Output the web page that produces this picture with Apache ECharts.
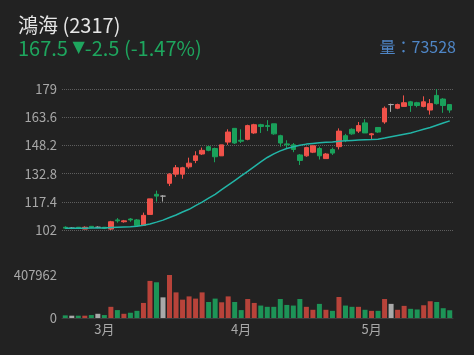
<!DOCTYPE html>
<html><head><meta charset="utf-8">
<script src="https://cdn.jsdelivr.net/npm/echarts@6/dist/echarts.min.js"></script>
<style>html,body{margin:0;padding:0;background:#222222;}#c{width:474px;height:355px;}</style>
</head><body><div id="c"></div>
<script>
// ---- data ----
const stockName = '鴻海 (2317)';
const lastPrice = '167.5';
const priceChange = '-2.5';
const pctChange = '-1.47%';
const lastVolume = 73528;

const dates = ['2/21','2/22','2/23','2/26','2/27','2/29',
  '3/1','3/4','3/5','3/6','3/7','3/8','3/11','3/12','3/13','3/14','3/15','3/18','3/19','3/20','3/21','3/22','3/25','3/26','3/27','3/28','3/29',
  '4/1','4/2','4/3','4/8','4/9','4/10','4/11','4/12','4/15','4/16','4/17','4/18','4/19','4/22','4/23','4/24','4/25','4/26','4/29','4/30',
  '5/2','5/3','5/6','5/7','5/8','5/9','5/10','5/13','5/14','5/15','5/16','5/17','5/20'];

const opens  = [103.5,103,103.5,102.5,104,103.5,103.5,102.5,107.5,106.5,108,107.5,104.5,110.5,121.5,120.5,127.5,132.5,132.5,136.5,140,143.5,147.5,146.5,142.5,150,157.5,151,151.5,155,159.5,159,160,153.5,149,148.5,143,142.5,144.5,146.5,141,146,147.5,153.5,157,156,160.5,154,158,161,170.5,168.5,169.5,172,171.5,169.5,167.5,175.5,173.5,170.5];
const closes = [103,103,103,103.5,103.5,103.5,103,106.5,107,107,107.5,104.5,110,119,120.5,120.5,132.5,136,136,138.5,142.5,145.5,145.5,142,148.5,155.5,149.5,150.5,159,159.5,158.5,158.5,154.5,149.5,148.5,146,140,147,148,142.5,143.5,144,156,151,154.5,159,155,154.5,155.5,168.5,170.5,170.5,171.5,170,170,172,171,171,170,167.5];
const lows   = [102.5,102.5,102.5,102.5,103,103,102.5,102,106,106,106.5,104,104.5,110.5,117.5,117.5,126,131,130,135.5,138.5,143,145,139,142.5,148.5,149,149.5,151,154.5,155,156,154,147.5,146.5,144.5,137.5,142,144,140.5,141,143,146,150,154,155,155,151.5,155,160,166.5,168,169.5,166.5,169,169,165,170.5,166,166];
const highs  = [104,103.5,103.5,104,104,104,103.5,107,108.5,107.5,108.5,108,111.5,119,123.5,121,133,137.5,136.5,141.5,145,147,148,147,148.5,157,157.5,157,159.5,160,160,162,160,154,151,149.5,143.5,147.5,148,147.5,144,147,157.5,154.5,157.5,161,162.5,155,158,169.5,171,171,175.5,172.5,172,175,173.5,179,174,170.5];
const ma20   = [103,103,103,103,103.1,103.1,103.1,103.3,103.5,103.7,103.8,104,104.6,105.3,106.3,107.4,108.8,110.2,111.8,113.3,115.3,117.2,119.4,121.5,124,126.5,129,131.5,134,136.6,139.2,141.6,143.6,145.2,146.5,147.5,148.3,148.9,149.3,149.6,149.9,150.1,150.5,150.7,150.9,151.1,151.3,151.4,151.6,152.2,152.9,153.6,154.3,155,156,157,158,159.2,160.4,161.6];
const volumes = [25000,22000,22000,22000,28000,40000,28000,106000,75000,40000,50000,68000,143000,352000,339000,196000,407962,243000,174000,205000,184000,243000,152000,184000,149000,205000,152000,75000,180000,143000,118000,106000,106000,180000,124000,118000,180000,106000,78000,134000,78000,68000,199000,118000,106000,106000,78000,68000,68000,180000,134000,78000,115000,87000,81000,121000,159000,152000,93000,73528];

const priceMin = 102, priceMax = 179, priceStep = 15.4;
const volumeMax = 407962;

// ---- styles ----
const UP = '#f0524a', DOWN = '#1aa15b', FLAT = '#a9a9a9';
const VUP = '#b8433a', VDOWN = '#1d9457', VFLAT = '#a9a9a9';
const FONT = 'Noto Sans CJK TC, Noto Sans, sans-serif';

const candleData = dates.map((d, i) => {
  const item = { value: [opens[i], closes[i], lows[i], highs[i]] };
  if (opens[i] === closes[i]) {
    item.itemStyle = { color: FLAT, color0: FLAT, borderColor: FLAT, borderColor0: FLAT };
  }
  return item;
});
const volData = volumes.map((v, i) => ({
  value: v,
  itemStyle: { color: closes[i] > opens[i] ? VUP : (closes[i] < opens[i] ? VDOWN : VFLAT) }
}));

const labelStyle = { color: '#a8a8a8', fontSize: 13, fontFamily: FONT };

const chart = echarts.init(document.getElementById('c'), null, { renderer: 'canvas' });
chart.setOption({
  backgroundColor: '#222222',
  animation: false,
  title: [
    { text: stockName, left: 18, top: 15, padding: 0, textStyle: { color: '#e6e6e6', fontSize: 20, fontWeight: 'normal', fontFamily: FONT } },
    { text: '{n|' + lastPrice + ' }{t|▼}{n|' + priceChange + ' (' + pctChange + ')}', left: 18, top: 38, padding: 0,
      textStyle: { fontWeight: 'normal', rich: {
        n: { color: '#1ea65e', fontSize: 20, fontWeight: 'normal', fontFamily: FONT },
        t: { color: '#1ea65e', fontSize: 16, fontWeight: 'normal', fontFamily: 'DejaVu Sans, sans-serif' } } } },
    { text: '量：' + lastVolume, right: 18, top: 39, padding: 0, textStyle: { color: '#4f86c6', fontSize: 16, fontWeight: 'normal', fontFamily: FONT } }
  ],
  grid: [
    { left: 62, right: 21, top: 89, height: 141 },
    { left: 62, right: 21, top: 275, height: 43 }
  ],
  xAxis: [
    { type: 'category', gridIndex: 0, data: dates, boundaryGap: true,
      axisLine: { show: false }, axisTick: { show: false }, axisLabel: { show: false }, splitLine: { show: false } },
    { type: 'category', gridIndex: 1, data: dates, boundaryGap: true,
      axisLine: { show: true, lineStyle: { color: '#3c3c3c' } }, axisTick: { show: false },
      axisLabel: Object.assign({}, labelStyle, {
        margin: 5,
        interval: (idx, val) => idx > 0 && dates[idx].split('/')[0] !== dates[idx - 1].split('/')[0],
        formatter: (val) => val.split('/')[0] + '月'
      }),
      splitLine: { show: false } }
  ],
  yAxis: [
    { type: 'value', gridIndex: 0, min: priceMin, max: priceMax, interval: priceStep, scale: true,
      axisLine: { show: false }, axisTick: { show: false },
      axisLabel: Object.assign({}, labelStyle, { margin: 5, formatter: (v) => String(Math.round(v * 10) / 10) }),
      splitLine: { show: true, lineStyle: { color: '#5e5e5e', type: 'dotted', width: 1 } } },
    { type: 'value', gridIndex: 1, min: 0, max: volumeMax, interval: volumeMax,
      axisLine: { show: false }, axisTick: { show: false },
      axisLabel: Object.assign({}, labelStyle, { margin: 5, formatter: (v) => String(v) }),
      splitLine: { show: false } }
  ],
  series: [
    { type: 'candlestick', xAxisIndex: 0, yAxisIndex: 0, data: candleData, barWidth: 5,
      itemStyle: { color: UP, color0: DOWN, borderColor: UP, borderColor0: DOWN, borderWidth: 1 } },
    { type: 'line', xAxisIndex: 0, yAxisIndex: 0, data: ma20, symbol: 'none', smooth: false,
      lineStyle: { color: '#22b5a7', width: 1.5 } },
    { type: 'bar', xAxisIndex: 1, yAxisIndex: 1, data: volData, barWidth: 5 }
  ]
});
</script>
</body></html>
